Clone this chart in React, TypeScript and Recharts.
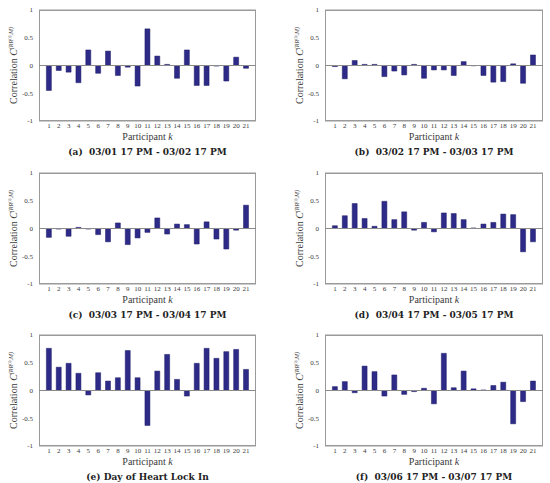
import React from 'react';
import { BarChart, Bar, XAxis, YAxis, ReferenceLine } from 'recharts';

const participants = ['1', '2', '3', '4', '5', '6', '7', '8', '9', '10', '11', '12', '13', '14', '15', '16', '17', '18', '19', '20', '21'];
const yTicks = [-1, -0.5, 0, 0.5, 1];

const day0301 = [-0.45, -0.09, -0.12, -0.31, 0.28, -0.14, 0.26, -0.18, -0.03, -0.37, 0.66, 0.17, 0.02, -0.23, 0.28, -0.36, -0.36, -0.01, -0.28, 0.15, -0.05];
const day0302 = [-0.02, -0.24, 0.09, 0.02, 0.02, -0.2, -0.1, -0.17, 0.02, -0.23, -0.08, -0.08, -0.18, 0.07, -0.005, -0.18, -0.3, -0.29, 0.03, -0.32, 0.19];
const day0303 = [-0.16, -0.01, -0.14, 0.02, -0.01, -0.11, -0.24, 0.1, -0.29, -0.17, -0.07, 0.19, -0.1, 0.08, 0.07, -0.28, 0.12, -0.19, -0.37, -0.03, 0.42];
const day0304 = [0.05, 0.23, 0.45, 0.18, 0.04, 0.49, 0.16, 0.3, -0.03, 0.11, -0.06, 0.28, 0.27, 0.16, 0.01, 0.08, 0.11, 0.26, 0.25, -0.42, -0.24];
const heartLock = [0.76, 0.42, 0.49, 0.31, -0.08, 0.32, 0.17, 0.23, 0.72, 0.23, -0.63, 0.35, 0.65, 0.2, -0.1, 0.49, 0.76, 0.58, 0.7, 0.74, 0.38];
const day0306 = [0.07, 0.16, -0.04, 0.44, 0.34, -0.1, 0.28, -0.07, -0.02, 0.04, -0.24, 0.67, 0.05, 0.35, 0.03, 0.01, 0.09, 0.15, -0.6, -0.2, 0.17];

const captions = [
  '(a)  03/01 17 PM - 03/02 17 PM',
  '(b)  03/02 17 PM - 03/03 17 PM',
  '(c)  03/03 17 PM - 03/04 17 PM',
  '(d)  03/04 17 PM - 03/05 17 PM',
  '(e) Day of Heart Lock In',
  '(f)  03/06 17 PM - 03/07 17 PM',
];

const FONT = '"Liberation Serif", serif';
const CAPTION_FONT = '"DejaVu Serif", serif';
const BAR = '#2d2a88';
const AXIS = '#8a8a8a';
const FRAME = '#9a9a9a';
const TEXT = '#3a3a3a';

// chart geometry
const W = 275;
const H = 160;
const TOP = 10;
const XAXIS_H = 20;
const BOTTOM = 19;

const YLabel = (props: any) => {
  const vb = props.viewBox || {};
  const cx = vb.x + vb.width - 22;
  const cy = vb.y + vb.height / 2;
  return (
    <text
      x={cx}
      y={cy}
      transform={`rotate(-90 ${cx} ${cy})`}
      textAnchor="middle"
      fontFamily={FONT}
      fontSize={10}
      fill={TEXT}
    >
      <tspan>Correlation </tspan>
      <tspan fontStyle="italic">C</tspan>
      <tspan fontSize={6} dy={-4} fontStyle="italic">(RR</tspan>
      <tspan fontSize={4.5} dy={-2}>(i)</tspan>
      <tspan fontSize={6} dy={2} fontStyle="italic">,M)</tspan>
    </text>
  );
};

const XLabel = (props: any) => {
  const vb = props.viewBox || {};
  return (
    <text
      x={vb.x + vb.width / 2}
      y={vb.y + 19}
      textAnchor="middle"
      fontFamily={FONT}
      fontSize={10}
      fill={TEXT}
    >
      Participant <tspan fontStyle="italic">k</tspan>
    </text>
  );
};

interface PanelProps {
  values: number[];
  caption: string;
  left: number;
  top: number;
  plotLeft: number;
  plotRight: number;
}

const Panel: React.FC<PanelProps> = ({ values, caption, left, top, plotLeft, plotRight }) => {
  const data = participants.map((k, i) => ({ k, v: values[i] }));
  const plotH = H - TOP - BOTTOM - XAXIS_H;
  const plotW = W - plotLeft - plotRight;
  return (
    <div style={{ position: 'absolute', left, top, width: W, height: H }}>
      {/* axes box, drawn under the chart */}
      <div
        style={{
          position: 'absolute',
          left: plotLeft,
          top: TOP,
          width: plotW,
          height: plotH,
          boxSizing: 'border-box',
          borderStyle: 'solid',
          borderWidth: 1,
          borderColor: FRAME,
        }}
      />
      <div style={{ position: 'absolute', left: 0, top: 0 }}>
        <BarChart
          width={W}
          height={H}
          data={data}
          margin={{ top: TOP, right: plotRight, bottom: BOTTOM, left: plotLeft - 20 }}
          barCategoryGap="24%"
        >
          <XAxis
            dataKey="k"
            interval={0}
            tickLine={false}
            tickSize={0}
            tickMargin={2}
            padding={{ left: 5, right: 5 }}
            axisLine={false}
            tick={{ fontFamily: FONT, fontSize: 7, fill: TEXT }}
            height={XAXIS_H}
            label={<XLabel />}
          />
          <YAxis
            domain={[-1, 1]}
            ticks={yTicks}
            tickLine={false}
            tickSize={0}
            tickMargin={6}
            width={20}
            axisLine={false}
            tick={{ fontFamily: FONT, fontSize: 7, fill: TEXT }}
            label={<YLabel />}
          />
          <ReferenceLine y={1} stroke={FRAME} />
          <ReferenceLine y={-1} stroke={FRAME} />
          <ReferenceLine y={0} stroke={AXIS} />
          <Bar dataKey="v" fill={BAR} stroke="#1e1c66" strokeWidth={0.5} isAnimationActive={false} />
        </BarChart>
      </div>
      <div
        style={{
          position: 'absolute',
          top: 147,
          left: plotLeft,
          width: plotW,
          textAlign: 'center',
          fontFamily: CAPTION_FONT,
          fontWeight: 'bold',
          fontSize: 9,
          lineHeight: 'normal',
          whiteSpace: 'pre',
          color: '#222',
        }}
      >
        {caption}
      </div>
    </div>
  );
};

const series = [day0301, day0302, day0303, day0304, heartLock, day0306];
const rowTops = [0, 163, 325];

export default function App() {
  return (
    <div style={{ position: 'absolute', left: 0, top: 0, width: 550, height: 483, background: '#fff' }}>
      {series.map((values, i) => {
        const col = i % 2;
        const row = Math.floor(i / 2);
        return (
          <Panel
            key={i}
            values={values}
            caption={captions[i]}
            left={col * W}
            top={rowTops[row]}
            plotLeft={col === 0 ? 39 : 50}
            plotRight={col === 0 ? 19 : 7}
          />
        );
      })}
    </div>
  );
}
